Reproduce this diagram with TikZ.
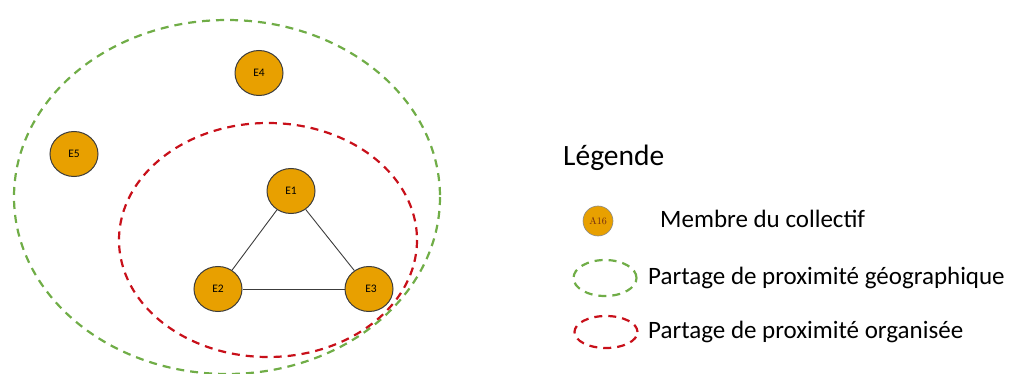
\documentclass[tikz,border=0pt]{standalone}
\usepackage{fontspec}
\setmainfont{Carlito}
\usetikzlibrary{shapes.geometric}
\definecolor{nodeorange}{RGB}{232,160,0}
\definecolor{geogreen}{RGB}{112,173,71}
\definecolor{orgred}{RGB}{200,16,26}
\definecolor{edgegray}{RGB}{60,60,60}
\definecolor{atext}{RGB}{110,40,20}
\begin{document}
\begin{tikzpicture}[x=1pt,y=-1pt,
  member/.style={ellipse,draw=edgegray,line width=1pt,fill=nodeorange,minimum width=48pt,minimum height=45pt,inner sep=0pt,font=\fontsize{11.5}{11.5}\selectfont},
  geozone/.style={draw=geogreen,line width=2.2pt,dash pattern=on 8pt off 6pt},
  orgzone/.style={draw=orgred,line width=2.2pt,dash pattern=on 8pt off 6pt},
  link/.style={draw=edgegray,line width=0.9pt},
  legtext/.style={anchor=west,inner sep=0pt,font=\fontsize{25}{25}\selectfont}]
\useasboundingbox (0,0) rectangle (1009,374);
% zones
\draw[geozone] (227,197) ellipse [x radius=213, y radius=177];
\draw[orgzone] (268,240) ellipse [x radius=149, y radius=117];
% members
\node[member] (E4) at (259,73) {E4};
\node[member] (E5) at (74,154) {E5};
\node[member] (E1) at (291,191) {E1};
\node[member] (E2) at (218,289) {E2};
\node[member] (E3) at (369,289) {\hspace*{4pt}E3};
\draw[link] (E1) -- (E2);
\draw[link] (E1) -- (E3);
\draw[link] (E2) -- (E3);
% legend
\node[anchor=west,inner sep=0pt,font=\fontsize{29.5}{29.5}\selectfont] (leg) at (563,158) {Légende};
\node[circle,draw=edgegray!60,line width=0.6pt,fill=nodeorange,minimum size=30pt,inner sep=0pt,font=\fontfamily{lmr}\fontsize{10}{10}\selectfont\color{atext}] (A16) at (598,221) {A16};
\node[legtext] (tm) at (660,219) {Membre du collectif};
\node[ellipse,geozone,minimum width=63pt,minimum height=36pt] (lg) at (605,278) {};
\node[legtext] (tg) at (648,278) {Partage de proximité géographique};
\node[ellipse,orgzone,minimum width=63pt,minimum height=32pt] (lo) at (606,332) {};
\node[legtext] (to) at (648,332) {Partage de proximité organisée};
\end{tikzpicture}
\end{document}
